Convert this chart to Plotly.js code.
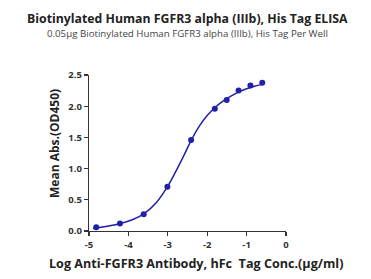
<!DOCTYPE html>
<html><head><meta charset="utf-8">
<script src="https://cdn.plot.ly/plotly-3.0.1.min.js"></script>
<style>html,body{margin:0;padding:0;background:#fff;}#chart{width:371px;height:279px;}</style>
</head><body><div id="chart"></div>
<script>
// Measured points (log10 concentration, mean OD450)
const logConc = [-4.816, -4.214, -3.612, -3.010, -2.408, -1.806, -1.505, -1.204, -0.903, -0.602];
const meanAbs = [0.06, 0.12, 0.27, 0.71, 1.46, 1.96, 2.10, 2.25, 2.33, 2.375];
// Fitted curve
const curveX = [-4.9, -4.5, -4.2, -3.9, -3.6, -3.3, -3.0, -2.8, -2.6, -2.4, -2.2, -2.0, -1.8, -1.6, -1.4, -1.2, -1.0, -0.8, -0.6];
const curveY = [0.04, 0.08, 0.12, 0.18, 0.28, 0.45, 0.72, 0.95, 1.20, 1.46, 1.68, 1.85, 1.98, 2.08, 2.16, 2.23, 2.28, 2.32, 2.35];
const xTicks = [-5, -4, -3, -2, -1, 0];
const yTicks = [0, 0.5, 1.0, 1.5, 2.0, 2.5];
const yTickText = ['0.0', '0.5', '1.0', '1.5', '2.0', '2.5'];

const blue = '#2020a8';
const font = 'Open Sans, Noto Sans, sans-serif';

const traces = [
  {x: curveX, y: curveY, mode: 'lines', line: {color: blue, width: 1.5, shape: 'spline'}, hoverinfo: 'skip'},
  {x: logConc, y: meanAbs, mode: 'markers', marker: {color: blue, size: 6}}
];

const layout = {
  width: 371, height: 279,
  margin: {l: 89, r: 85, t: 75, b: 48},
  showlegend: false,
  paper_bgcolor: '#fff', plot_bgcolor: '#fff',
  font: {family: font, color: '#333'},
  xaxis: {
    range: [-5, 0], tickvals: xTicks, ticktext: xTicks.map(String),
    showgrid: false, zeroline: false, showline: true, linecolor: '#333', linewidth: 1.2,
    ticks: 'outside', ticklen: 4, tickcolor: '#333', tickwidth: 1.2,
    tickfont: {family: font, size: 9.5, color: '#333', weight: 'bold'}
  },
  yaxis: {
    range: [0, 2.5], tickvals: yTicks, ticktext: yTickText,
    showgrid: false, zeroline: false, showline: true, linecolor: '#333', linewidth: 1.2,
    ticks: 'outside', ticklen: 4, tickcolor: '#333', tickwidth: 1.2,
    tickfont: {family: font, size: 9.5, color: '#333', weight: 'bold'}
  },
  annotations: [
    {text: '<b>Biotinylated Human FGFR3 alpha (IIIb), His Tag ELISA</b>', xref: 'paper', yref: 'paper',
     x: 0.5, y: 1, xanchor: 'center', yanchor: 'middle', yshift: 57, xshift: 0, showarrow: false,
     font: {family: font, size: 12.3, color: '#222'}},
    {text: '0.05μg Biotinylated Human FGFR3 alpha (IIIb), His Tag Per Well', xref: 'paper', yref: 'paper',
     x: 0.5, y: 1, xanchor: 'center', yanchor: 'middle', yshift: 42, showarrow: false,
     font: {family: font, size: 9.7, color: '#444'}},
    {text: '<b>Mean Abs.(OD450)</b>', xref: 'paper', yref: 'paper', x: 0, y: 0.5,
     xanchor: 'center', yanchor: 'middle', xshift: -35, yshift: 9, textangle: -90, showarrow: false,
     font: {family: font, size: 12, color: '#222'}},
    {text: '<b>Log Anti-FGFR3 Antibody, hFc  Tag Conc.(μg/ml)</b>', xref: 'paper', yref: 'paper', x: 0.5, y: 0,
     xanchor: 'center', yanchor: 'middle', xshift: 8, yshift: -32, showarrow: false,
     font: {family: font, size: 12.6, color: '#222'}}
  ]
};
Plotly.newPlot('chart', traces, layout, {displayModeBar: false, staticPlot: true});
</script></body></html>
